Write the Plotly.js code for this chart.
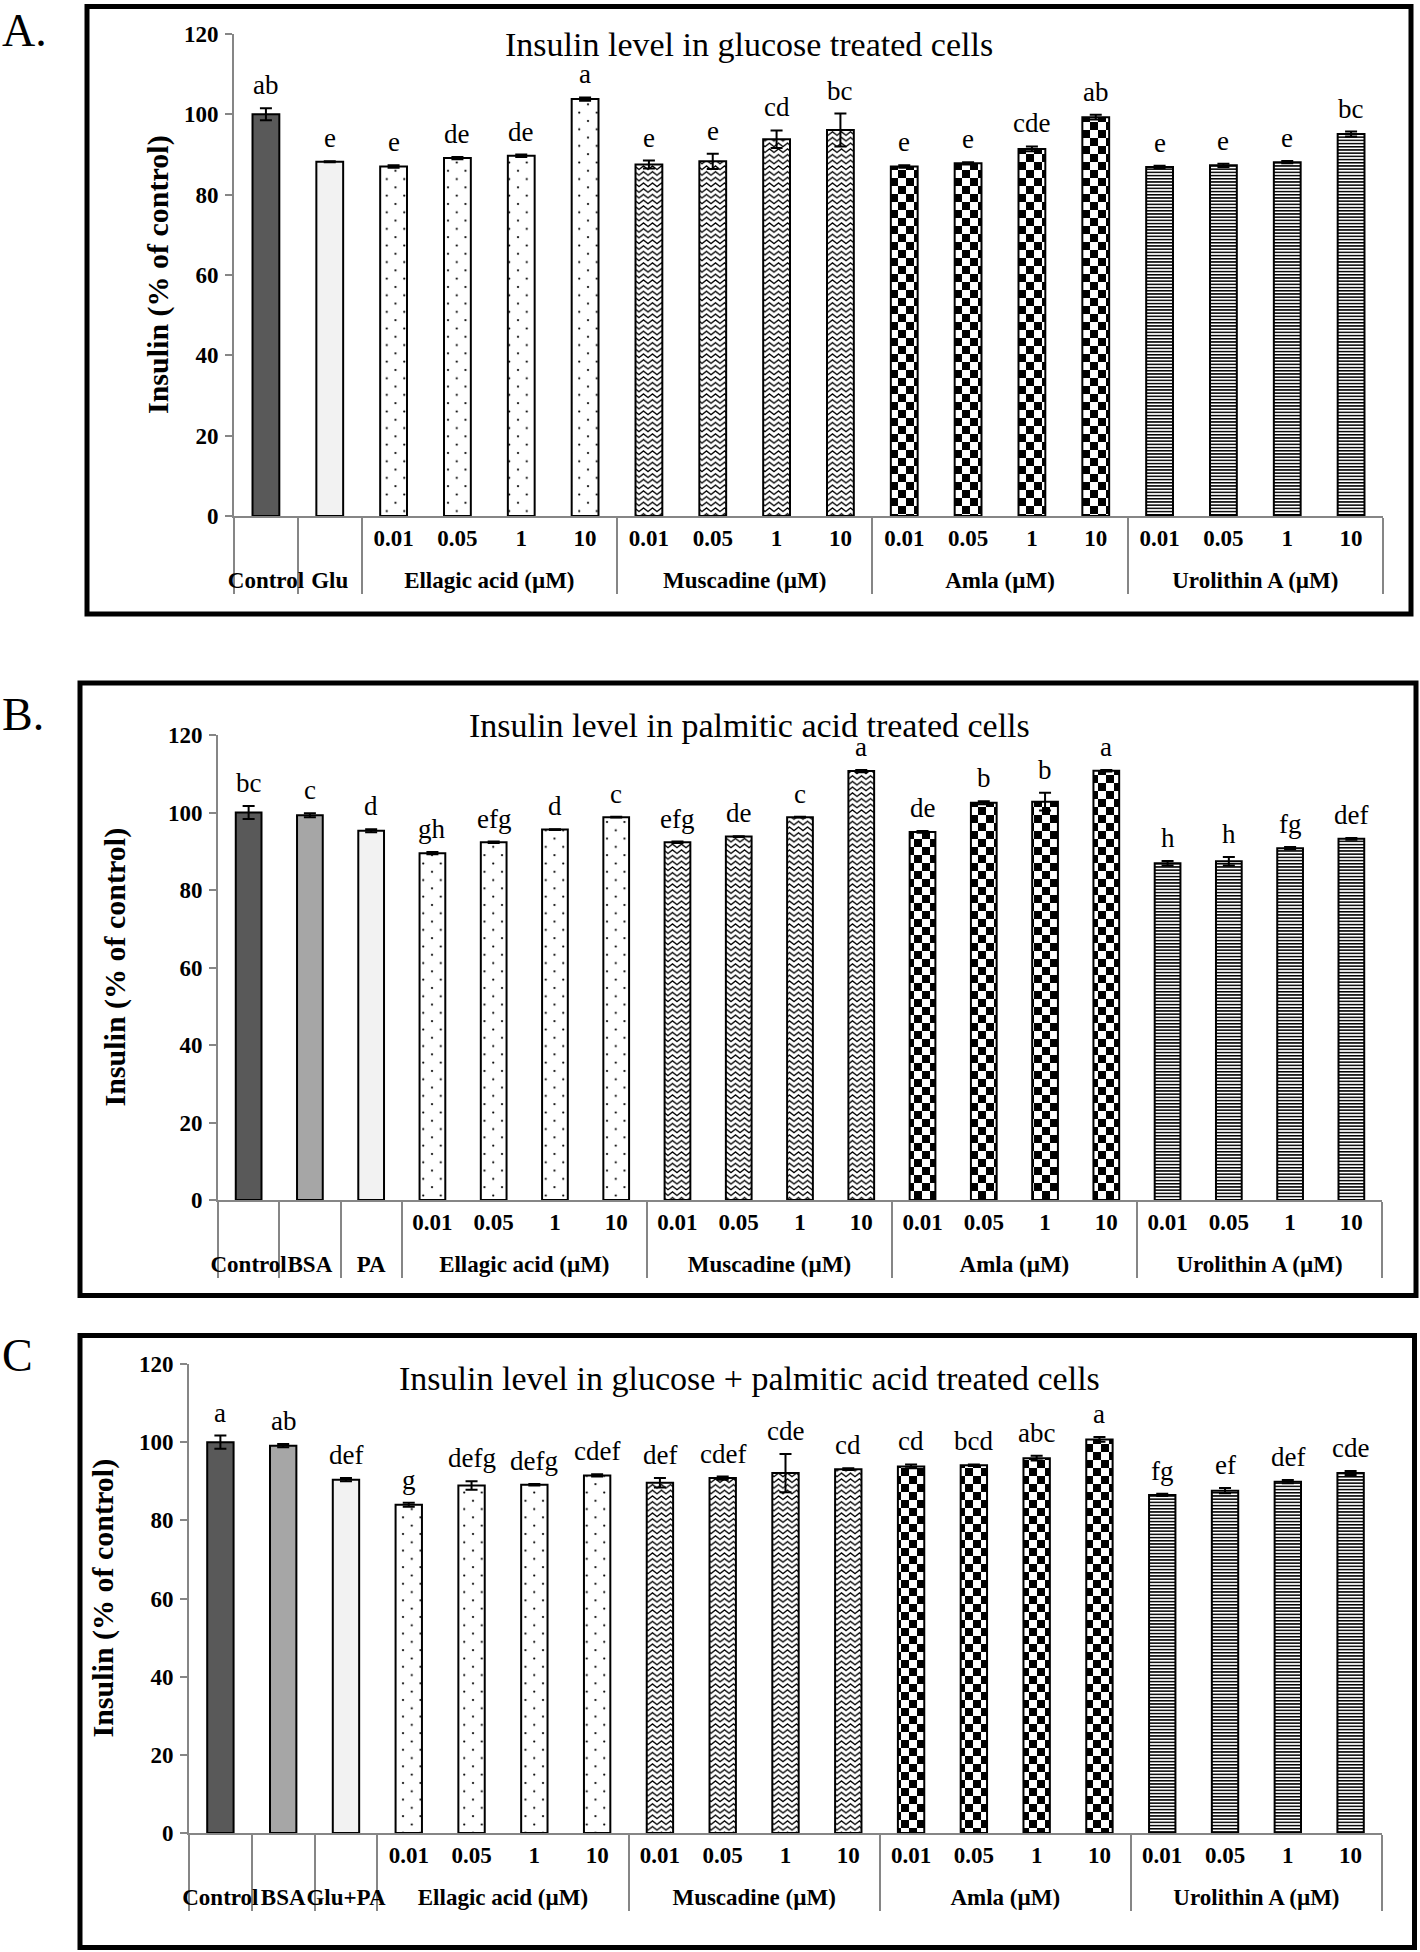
<!DOCTYPE html>
<html>
<head>
<meta charset="utf-8">
<script src="https://cdn.plot.ly/plotly-3.0.1.min.js"></script>
<style>
  body { margin: 0; background: #fff; }
  #chart { width: 1420px; height: 1952px; }
</style>
</head>
<body>
<div id="chart"></div>
<script>
// shared category labels
var doses = ['0.01', '0.05', '1', '10'];
var treatments = ['Ellagic acid (µM)', 'Muscadine (µM)', 'Amla (µM)', 'Urolithin A (µM)'];

// A. glucose treated cells (controls first, then 4 doses per treatment)
var titleA = 'Insulin level in glucose treated cells';
var controlsA = ['Control', 'Glu'];
var valuesA = [100.0, 88.2, 87.0, 89.1, 89.7, 103.8, 87.5, 88.3, 93.8, 96.1, 87.0, 87.8, 91.4, 99.3, 86.9, 87.3, 88.1, 95.1];
var errorsA = [1.5, 0.1, 0.3, 0.3, 0.3, 0.4, 1.0, 1.9, 2.2, 4.1, 0.3, 0.3, 0.6, 0.6, 0.3, 0.4, 0.3, 0.6];
var lettersA = ['ab', 'e', 'e', 'de', 'de', 'a', 'e', 'e', 'cd', 'bc', 'e', 'e', 'cde', 'ab', 'e', 'e', 'e', 'bc'];

// B. palmitic acid treated cells
var titleB = 'Insulin level in palmitic acid treated cells';
var controlsB = ['Control', 'BSA', 'PA'];
var valuesB = [100.0, 99.3, 95.3, 89.5, 92.3, 95.6, 98.8, 92.3, 93.8, 98.8, 110.7, 95.0, 102.5, 102.8, 110.8, 86.9, 87.4, 90.8, 93.2];
var errorsB = [1.7, 0.5, 0.4, 0.3, 0.2, 0.1, 0.1, 0.2, 0.1, 0.1, 0.3, 0.2, 0.4, 2.3, 0.2, 0.6, 1.1, 0.3, 0.2];
var lettersB = ['bc', 'c', 'd', 'gh', 'efg', 'd', 'c', 'efg', 'de', 'c', 'a', 'de', 'b', 'b', 'a', 'h', 'h', 'fg', 'def'];

// C. glucose + palmitic acid treated cells
var titleC = 'Insulin level in glucose + palmitic acid treated cells';
var controlsC = ['Control', 'BSA', 'Glu+PA'];
var valuesC = [100.0, 99.1, 90.4, 84.0, 88.9, 89.1, 91.5, 89.6, 90.8, 92.1, 93.1, 93.8, 94.1, 95.9, 100.7, 86.5, 87.6, 89.9, 92.1];
var errorsC = [1.7, 0.4, 0.4, 0.5, 1.1, 0.2, 0.3, 1.2, 0.4, 4.9, 0.2, 0.5, 0.2, 0.6, 0.6, 0.3, 0.7, 0.4, 0.5];
var lettersC = ['a', 'ab', 'def', 'g', 'defg', 'defg', 'cdef', 'def', 'cdef', 'cde', 'cd', 'cd', 'bcd', 'abc', 'a', 'fg', 'ef', 'def', 'cde'];

var yTitle = 'Insulin (% of control)';

// ---- page geometry (pixels of the 1420x1952 page) ----
var W = 1420, H = 1952;
function fx(x) { return x / W; }
function fy(y) { return 1 - y / H; }

var SERIF = 'Liberation Serif, Times New Roman, serif';
var GRAY = '#868686';
var patternIds = ['pDots', 'pZigzag', 'pChecker', 'pLines'];
// blank inner label under the controls; its tall (invisible) glyph pushes the
// group labels further below the dose labels, like the excel original
var BLANK_INNER = '<span style="font-size:36px">\u00a0</span>';

var panels = [
    {tag: 'A.', title: titleA, controls: controlsA, values: valuesA, errors: errorsA, letters: lettersA,
     ctrlFill: ['#595959', '#f2f2f2'],
     box: [87, 6.5, 1411, 614], plot: [234, 34, 1383, 516], tagY: 30, titleY: 45, yTitleX: 158},
    {tag: 'B.', title: titleB, controls: controlsB, values: valuesB, errors: errorsB, letters: lettersB,
     ctrlFill: ['#595959', '#a6a6a6', '#f2f2f2'],
     box: [80, 683, 1416, 1295.5], plot: [218, 735, 1382, 1200], tagY: 714, titleY: 725, yTitleX: 114},
    {tag: 'C', title: titleC, controls: controlsC, values: valuesC, errors: errorsC, letters: lettersC,
     ctrlFill: ['#595959', '#a6a6a6', '#f2f2f2'],
     box: [80, 1335.5, 1414.5, 1947.5], plot: [189, 1364, 1382, 1833], tagY: 1355, titleY: 1378, yTitleX: 102}
];

var data = [];
var layout = {
    width: W, height: H,
    margin: {l: 0, r: 0, t: 0, b: 0},
    paper_bgcolor: '#fff', plot_bgcolor: 'rgba(0,0,0,0)',
    showlegend: false,
    barmode: 'overlay',
    font: {family: SERIF, color: '#000'},
    annotations: [],
    shapes: []
};

function errorBars(arr) {
    return {type: 'data', array: arr, visible: true, color: '#000', thickness: 2, width: 6};
}

panels.forEach(function(p, k) {
    var sfx = k ? String(k + 1) : '';
    var xa = 'x' + sfx, ya = 'y' + sfx;
    var nc = p.controls.length;

    // untreated / vehicle bars
    data.push({
        type: 'bar', xaxis: xa, yaxis: ya, hoverinfo: 'skip', width: 0.42,
        x: [p.controls, p.controls.map(function() { return BLANK_INNER; })],
        y: p.values.slice(0, nc),
        error_y: errorBars(p.errors.slice(0, nc)),
        marker: {color: p.ctrlFill, line: {color: '#000', width: 2}}
    });
    // one trace per treatment, fill swapped to an svg pattern afterwards
    treatments.forEach(function(t, j) {
        var s = nc + 4 * j;
        data.push({
            type: 'bar', xaxis: xa, yaxis: ya, hoverinfo: 'skip', width: 0.42, meta: patternIds[j],
            x: [doses.map(function() { return t; }), doses],
            y: p.values.slice(s, s + 4),
            error_y: errorBars(p.errors.slice(s, s + 4)),
            marker: {color: '#fff', line: {color: '#000', width: 2}}
        });
    });

    layout['xaxis' + sfx] = {
        type: 'multicategory', anchor: ya,
        domain: [fx(p.plot[0]), fx(p.plot[2])],
        showline: true, linecolor: GRAY, linewidth: 2,
        ticks: 'outside', ticklen: 11, tickcolor: 'rgba(0,0,0,0)',
        showgrid: false, tickangle: 0,
        showdividers: true, dividercolor: GRAY, dividerwidth: 2,
        tickfont: {family: SERIF, size: 23, color: '#000', weight: 'bold'},
        fixedrange: true
    };
    layout['yaxis' + sfx] = {
        anchor: xa,
        domain: [fy(p.plot[3]), fy(p.plot[1])],
        range: [0, 120], tick0: 0, dtick: 20,
        showline: true, linecolor: GRAY, linewidth: 2,
        ticks: 'outside', ticklen: 7, tickwidth: 2, tickcolor: GRAY,
        ticklabelstandoff: 2,
        showgrid: false, zeroline: false,
        tickfont: {family: SERIF, size: 23, color: '#000', weight: 'bold'},
        fixedrange: true
    };

    // significance letters above each bar (+ error)
    p.letters.forEach(function(l, i) {
        layout.annotations.push({
            xref: xa, yref: ya, x: i, y: p.values[i] + p.errors[i],
            text: l, showarrow: false, yanchor: 'bottom', yshift: 6,
            font: {family: SERIF, size: 27, color: '#000'}
        });
    });

    // panel frame, title, y title, panel tag
    layout.shapes.push({
        type: 'rect', xref: 'paper', yref: 'paper',
        x0: fx(p.box[0]), x1: fx(p.box[2]), y0: fy(p.box[3]), y1: fy(p.box[1]),
        line: {color: '#000', width: 5}
    });
    layout.annotations.push({
        xref: 'paper', yref: 'paper', x: fx(749), y: fy(p.titleY),
        text: p.title, showarrow: false, xanchor: 'center', yanchor: 'middle',
        font: {family: SERIF, size: 34, color: '#000'}
    });
    layout.annotations.push({
        xref: 'paper', yref: 'paper', x: fx(p.yTitleX), y: (fy(p.plot[1]) + fy(p.plot[3])) / 2,
        text: '<b>' + yTitle + '</b>', textangle: -90, showarrow: false,
        xanchor: 'center', yanchor: 'middle',
        font: {family: SERIF, size: 30, color: '#000'}
    });
    layout.annotations.push({
        xref: 'paper', yref: 'paper', x: 0, y: fy(p.tagY),
        text: p.tag, showarrow: false, xanchor: 'left', yanchor: 'middle',
        font: {family: SERIF, size: 46, color: '#000'}
    });
});

// svg fills that plotly has no preset for (dots, zigzag, checkerboard, lines)
var SVGNS = 'http://www.w3.org/2000/svg';
function el(tag, attrs, parent) {
    var e = document.createElementNS(SVGNS, tag);
    for (var a in attrs) e.setAttribute(a, attrs[a]);
    if (parent) parent.appendChild(e);
    return e;
}
function makePattern(defs, id, w, h) {
    var pat = el('pattern', {id: id, patternUnits: 'userSpaceOnUse', width: w, height: h}, defs);
    el('rect', {x: 0, y: 0, width: w, height: h, fill: '#fff'}, pat);
    return pat;
}
function addPatterns(gd) {
    var svg = gd.querySelector('svg.main-svg');
    var defs = svg.querySelector('defs') || el('defs', {}, svg);

    var dots = makePattern(defs, 'pDots', 17.5, 16.6);
    el('circle', {cx: 4, cy: 4, r: 1.1, fill: '#000'}, dots);
    el('circle', {cx: 12.75, cy: 12.3, r: 1.1, fill: '#000'}, dots);

    var zig = makePattern(defs, 'pZigzag', 9, 5.7);
    el('path', {d: 'M-0.5,4.8 L4.5,0.9 L9.5,4.8', fill: 'none', stroke: '#000', 'stroke-width': 1.3}, zig);

    var chk = makePattern(defs, 'pChecker', 16, 16);
    el('rect', {x: 0, y: 0, width: 8, height: 8, fill: '#000'}, chk);
    el('rect', {x: 8, y: 8, width: 8, height: 8, fill: '#000'}, chk);

    var lines = makePattern(defs, 'pLines', 4, 3.2);
    el('rect', {x: 0, y: 0, width: 4, height: 1.5, fill: '#000'}, lines);

    gd.querySelectorAll('g.trace.bars').forEach(function(g) {
        var cd = g.__data__;
        var tr = cd && cd[0] && cd[0].trace;
        if (!tr || !tr.meta) return;
        g.querySelectorAll('g.point path').forEach(function(path) {
            path.style.fill = 'url(#' + tr.meta + ')';
        });
    });
}

Plotly.newPlot('chart', data, layout, {staticPlot: true}).then(addPatterns);
</script>
</body>
</html>
